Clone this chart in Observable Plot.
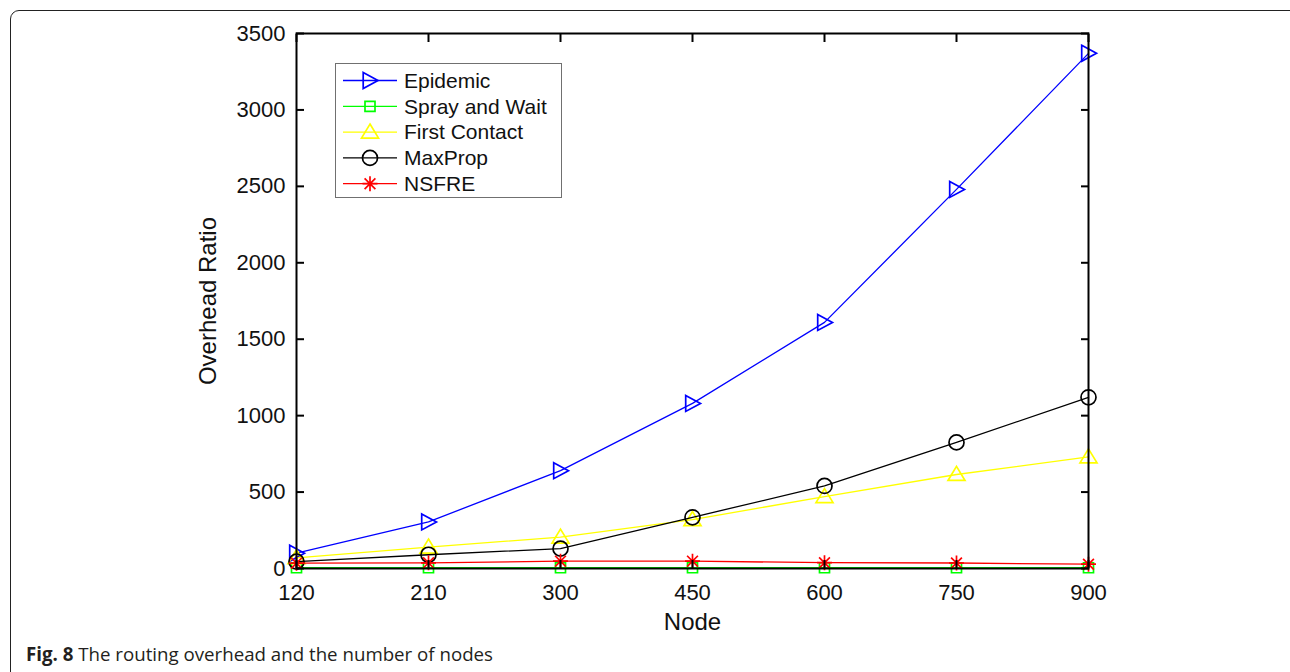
<!DOCTYPE html>
<html>
<head>
<meta charset="utf-8">
<script src="https://cdn.jsdelivr.net/npm/d3@7"></script>
<script src="https://cdn.jsdelivr.net/npm/@observablehq/plot@0.6"></script>
<style>
  body { margin: 0; background: #fff; }
  #wrap { position: relative; width: 1290px; height: 672px; overflow: hidden; background: #fff; }
  #chart { position: absolute; left: 0; top: 0; }
  #border { position: absolute; left: 10px; top: 10px; width: 1400px; height: 800px;
            border: 1.5px solid #222; border-radius: 9px; pointer-events: none; }
  #legend { position: absolute; left: 335px; top: 63px; }
  #caption { position: absolute; left: 26px; top: 645px; font-family: "Open Sans", sans-serif;
             font-size: 18.7px; line-height: 18px; color: #231f20; white-space: nowrap; }
  #caption b { font-weight: 700; }
</style>
</head>
<body>
<div id="wrap">
  <div id="chart"></div>
  <div id="border"></div>
  <div id="legend"></div>
  <div id="caption"><b>Fig. 8</b> The routing overhead and the number of nodes</div>
</div>
<script>
// Number of nodes (categorical x axis, evenly spaced)
const nodes = ["120", "210", "300", "450", "600", "750", "900"];

// Overhead ratio per routing protocol
const epidemic     = [100, 305, 640, 1080, 1610, 2480, 3370];
const sprayAndWait = [5, 5, 5, 5, 5, 5, 5];
const firstContact = [70, 140, 205, 320, 470, 615, 730];
const maxProp      = [45, 90, 130, 335, 540, 825, 1120];
const nsfre        = [35, 37, 48, 48, 38, 36, 28];

const seriesNames = ["Epidemic", "Spray and Wait", "First Contact", "MaxProp", "NSFRE"];
const yTicks = [0, 500, 1000, 1500, 2000, 2500, 3000, 3500];

// Marker shapes (r = sqrt(size / PI) is the dot radius)
const rOf = size => Math.sqrt(size / Math.PI);
const triangleRight = { draw(c, s) { const r = rOf(s);
  c.moveTo(-0.85 * r, -r); c.lineTo(r, 0); c.lineTo(-0.85 * r, r); c.closePath(); } };
const squareOpen = { draw(c, s) { const r = rOf(s);
  c.moveTo(-r, -r); c.lineTo(r, -r); c.lineTo(r, r); c.lineTo(-r, r); c.closePath(); } };
const triangleUp = { draw(c, s) { const r = rOf(s);
  c.moveTo(0, -0.95 * r); c.lineTo(r, 0.7 * r); c.lineTo(-r, 0.7 * r); c.closePath(); } };
const circleOpen = { draw(c, s) { const r = rOf(s);
  c.moveTo(r, 0); c.arc(0, 0, r, 0, 2 * Math.PI); c.closePath(); } };
const asterisk = { draw(c, s) { const r = rOf(s), d = r * 0.72;
  c.moveTo(-r, 0); c.lineTo(r, 0); c.moveTo(0, -r); c.lineTo(0, r);
  c.moveTo(-d, -d); c.lineTo(d, d); c.moveTo(-d, d); c.lineTo(d, -d); } };

const series = [
  { name: seriesNames[0], values: epidemic,     color: "#0000ff", symbol: triangleRight, r: 8 },
  { name: seriesNames[1], values: sprayAndWait, color: "#00ff00", symbol: squareOpen,    r: 5 },
  { name: seriesNames[2], values: firstContact, color: "#ffff00", symbol: triangleUp,    r: 8.5 },
  { name: seriesNames[3], values: maxProp,      color: "#000000", symbol: circleOpen,    r: 7.5 },
  { name: seriesNames[4], values: nsfre,        color: "#ff0000", symbol: asterisk,      r: 7.5 }
];

const tables = series.map(s => nodes.map((n, i) => ({ node: n, value: s.values[i], series: s.name })));

const font = '"Liberation Sans", Arial, sans-serif';

const plot = Plot.plot({
  width: 1290,
  height: 640,
  marginTop: 33,
  marginRight: 202,
  marginBottom: 72,
  marginLeft: 296,
  style: { fontFamily: font, background: "transparent" },
  x: { type: "point", domain: nodes, padding: 0 },
  y: { domain: [0, 3500] },
  marks: [
    // series lines and markers, drawn in legend order
    ...series.flatMap((s, k) => [
      Plot.line(tables[k], { x: "node", y: "value", stroke: s.color, strokeWidth: 1.3 }),
      Plot.dot(tables[k], { x: "node", y: "value", symbol: s.symbol, r: s.r,
                            stroke: s.color, fill: "none", strokeWidth: 1.7 })
    ]),
    Plot.frame({ stroke: "black", strokeWidth: 2 }),
    // inward ticks on all four sides
    Plot.axisX({ anchor: "bottom", tickSize: -8, strokeWidth: 2, tickFormat: () => "", label: null }),
    Plot.axisX({ anchor: "top", tickSize: -8, strokeWidth: 2, tickFormat: () => "", label: null }),
    Plot.axisY(yTicks, { anchor: "left", tickSize: -8, strokeWidth: 2, tickFormat: () => "", label: null }),
    Plot.axisY(yTicks, { anchor: "right", tickSize: -8, strokeWidth: 2, tickFormat: () => "", label: null }),
    // tick labels
    Plot.axisX({ anchor: "bottom", tickSize: 0, tickPadding: 16, fontSize: 22, fill: "#111", label: null }),
    Plot.axisY(yTicks, { anchor: "left", tickSize: 0, tickPadding: 11, fontSize: 22, fill: "#111",
                         tickFormat: d => String(d), label: null }),
    // axis titles
    Plot.text(["Node"], { frameAnchor: "bottom", lineAnchor: "middle", dy: 54, fontSize: 24, fill: "#111" }),
    Plot.text(["Overhead Ratio"], { frameAnchor: "left", textAnchor: "middle", lineAnchor: "middle",
                                    dx: -88, rotate: -90, fontSize: 24, fill: "#111" })
  ]
});
document.getElementById("chart").appendChild(plot);

// Legend box
const lw = 227, lh = 135;
const leg = d3.select("#legend").append("svg").attr("width", lw).attr("height", lh);
leg.append("rect").attr("x", 0.5).attr("y", 0.5).attr("width", lw - 1).attr("height", lh - 1)
  .attr("fill", "#fff").attr("stroke", "#707070").attr("stroke-width", 1);
series.forEach((s, i) => {
  const cy = 17.5 + i * 25.8;
  const g = leg.append("g").attr("transform", `translate(0,${cy})`);
  g.append("line").attr("x1", 8).attr("x2", 62).attr("stroke", s.color).attr("stroke-width", 1.3);
  const p = d3.path();
  s.symbol.draw(p, s.r * s.r * Math.PI);
  g.append("path").attr("d", p.toString()).attr("transform", "translate(35,0)")
    .attr("fill", "none").attr("stroke", s.color).attr("stroke-width", 1.7);
  g.append("text").attr("x", 69).attr("dy", "0.35em").text(s.name)
    .attr("font-family", font).attr("font-size", 21).attr("fill", "#111");
});
</script>
</body>
</html>
